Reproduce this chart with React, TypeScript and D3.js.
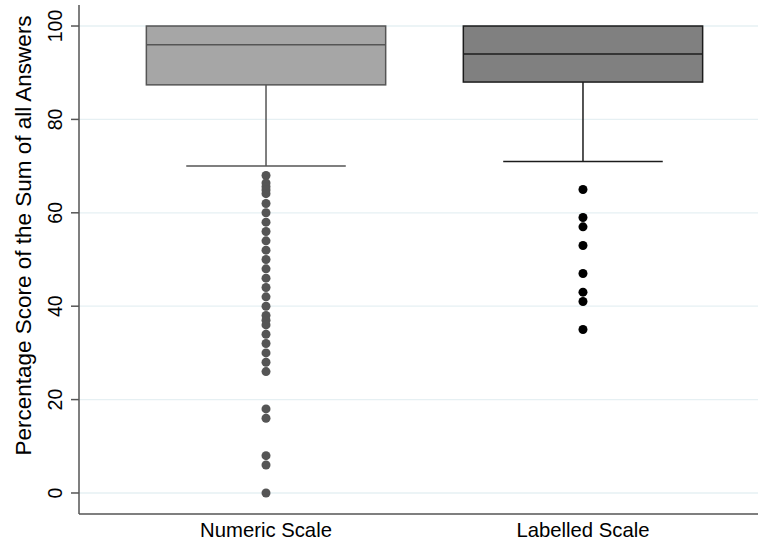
import React from "react";
import * as d3 from "d3";

const categories = ["Numeric Scale", "Labelled Scale"];
const q1 = [87.4, 88];
const medians = [96, 94];
const q3 = [100, 100];
const whiskerLow = [70, 71];
const whiskerHigh = [100, 100];
const outliersNumeric = [68, 66.4, 65.6, 64.9, 64.1, 62, 60, 58, 56, 54, 52, 50, 48, 46, 44, 42, 40, 38, 37, 36, 34, 32, 30, 28, 26, 18, 16, 8, 6, 0];
const outliersLabelled = [65, 59, 57, 53, 47, 43, 41, 35];
const yTicks = [0, 20, 40, 60, 80, 100];

const fills = ["#a6a6a6", "#808080"];
const strokes = ["#555555", "#1c1c1c"];
const dotColors = ["#555555", "#000000"];

const W = 758;
const H = 543;
const plotLeft = 79;
const plotRight = 770;
const plotTop = 5;
const plotBottom = 514;
const FONT = "Helvetica, 'Liberation Sans', Arial, sans-serif";

export default function App() {
  const y = d3.scaleLinear().domain([-4.5, 104.5]).range([plotBottom, plotTop]);
  const x = d3.scalePoint<string>().domain(categories).range([plotLeft, plotRight]).padding(0.59);
  const step = x.step();
  const boxW = step * 0.755;
  const capW = boxW * (2 / 3);
  const outliers = [outliersNumeric, outliersLabelled];

  return (
    <svg width={W} height={H} style={{ position: "absolute", left: 0, top: 0, background: "#fff" }} fontFamily={FONT}>
      <rect x={0} y={0} width={W} height={H} fill="#ffffff" />
      {yTicks.map((t) => (
        <line key={"g" + t} x1={plotLeft} x2={W} y1={y(t)} y2={y(t)} stroke="#e6f0f3" strokeWidth={1.3} />
      ))}
      {categories.map((c, i) => {
        const cx = x(c)!;
        return (
          <g key={c}>
            <line x1={cx} x2={cx} y1={y(q1[i])} y2={y(whiskerLow[i])} stroke={strokes[i]} strokeWidth={1.5} />
            <line x1={cx - capW / 2} x2={cx + capW / 2} y1={y(whiskerLow[i])} y2={y(whiskerLow[i])} stroke={strokes[i]} strokeWidth={1.5} />
            <line x1={cx} x2={cx} y1={y(q3[i])} y2={y(whiskerHigh[i])} stroke={strokes[i]} strokeWidth={1.5} />
            <rect x={cx - boxW / 2} y={y(q3[i])} width={boxW} height={y(q1[i]) - y(q3[i])} fill={fills[i]} stroke={strokes[i]} strokeWidth={1.5} />
            <line x1={cx - boxW / 2} x2={cx + boxW / 2} y1={y(medians[i])} y2={y(medians[i])} stroke={strokes[i]} strokeWidth={1.5} />
            {outliers[i].map((v, j) => (
              <circle key={j} cx={cx} cy={y(v)} r={4.5} fill={dotColors[i]} />
            ))}
            <text x={cx} y={537} textAnchor="middle" fontSize={20.3} fill="#000">{c}</text>
          </g>
        );
      })}
      <line x1={plotLeft} x2={plotLeft} y1={plotTop} y2={plotBottom} stroke="#555" strokeWidth={1.5} />
      <line x1={plotLeft} x2={W} y1={plotBottom} y2={plotBottom} stroke="#555" strokeWidth={1.5} />
      {yTicks.map((t) => (
        <g key={"t" + t}>
          <line x1={plotLeft - 8} x2={plotLeft} y1={y(t)} y2={y(t)} stroke="#555" strokeWidth={1.5} />
          <text transform={`translate(62,${y(t)}) rotate(-90)`} textAnchor="middle" fontSize={19.5} fill="#000">{t}</text>
        </g>
      ))}
      <text transform={`translate(31,${(14 + 457) / 2}) rotate(-90)`} textAnchor="middle" fontSize={22.5} fill="#000">
        Percentage Score of the Sum of all Answers
      </text>
    </svg>
  );
}
